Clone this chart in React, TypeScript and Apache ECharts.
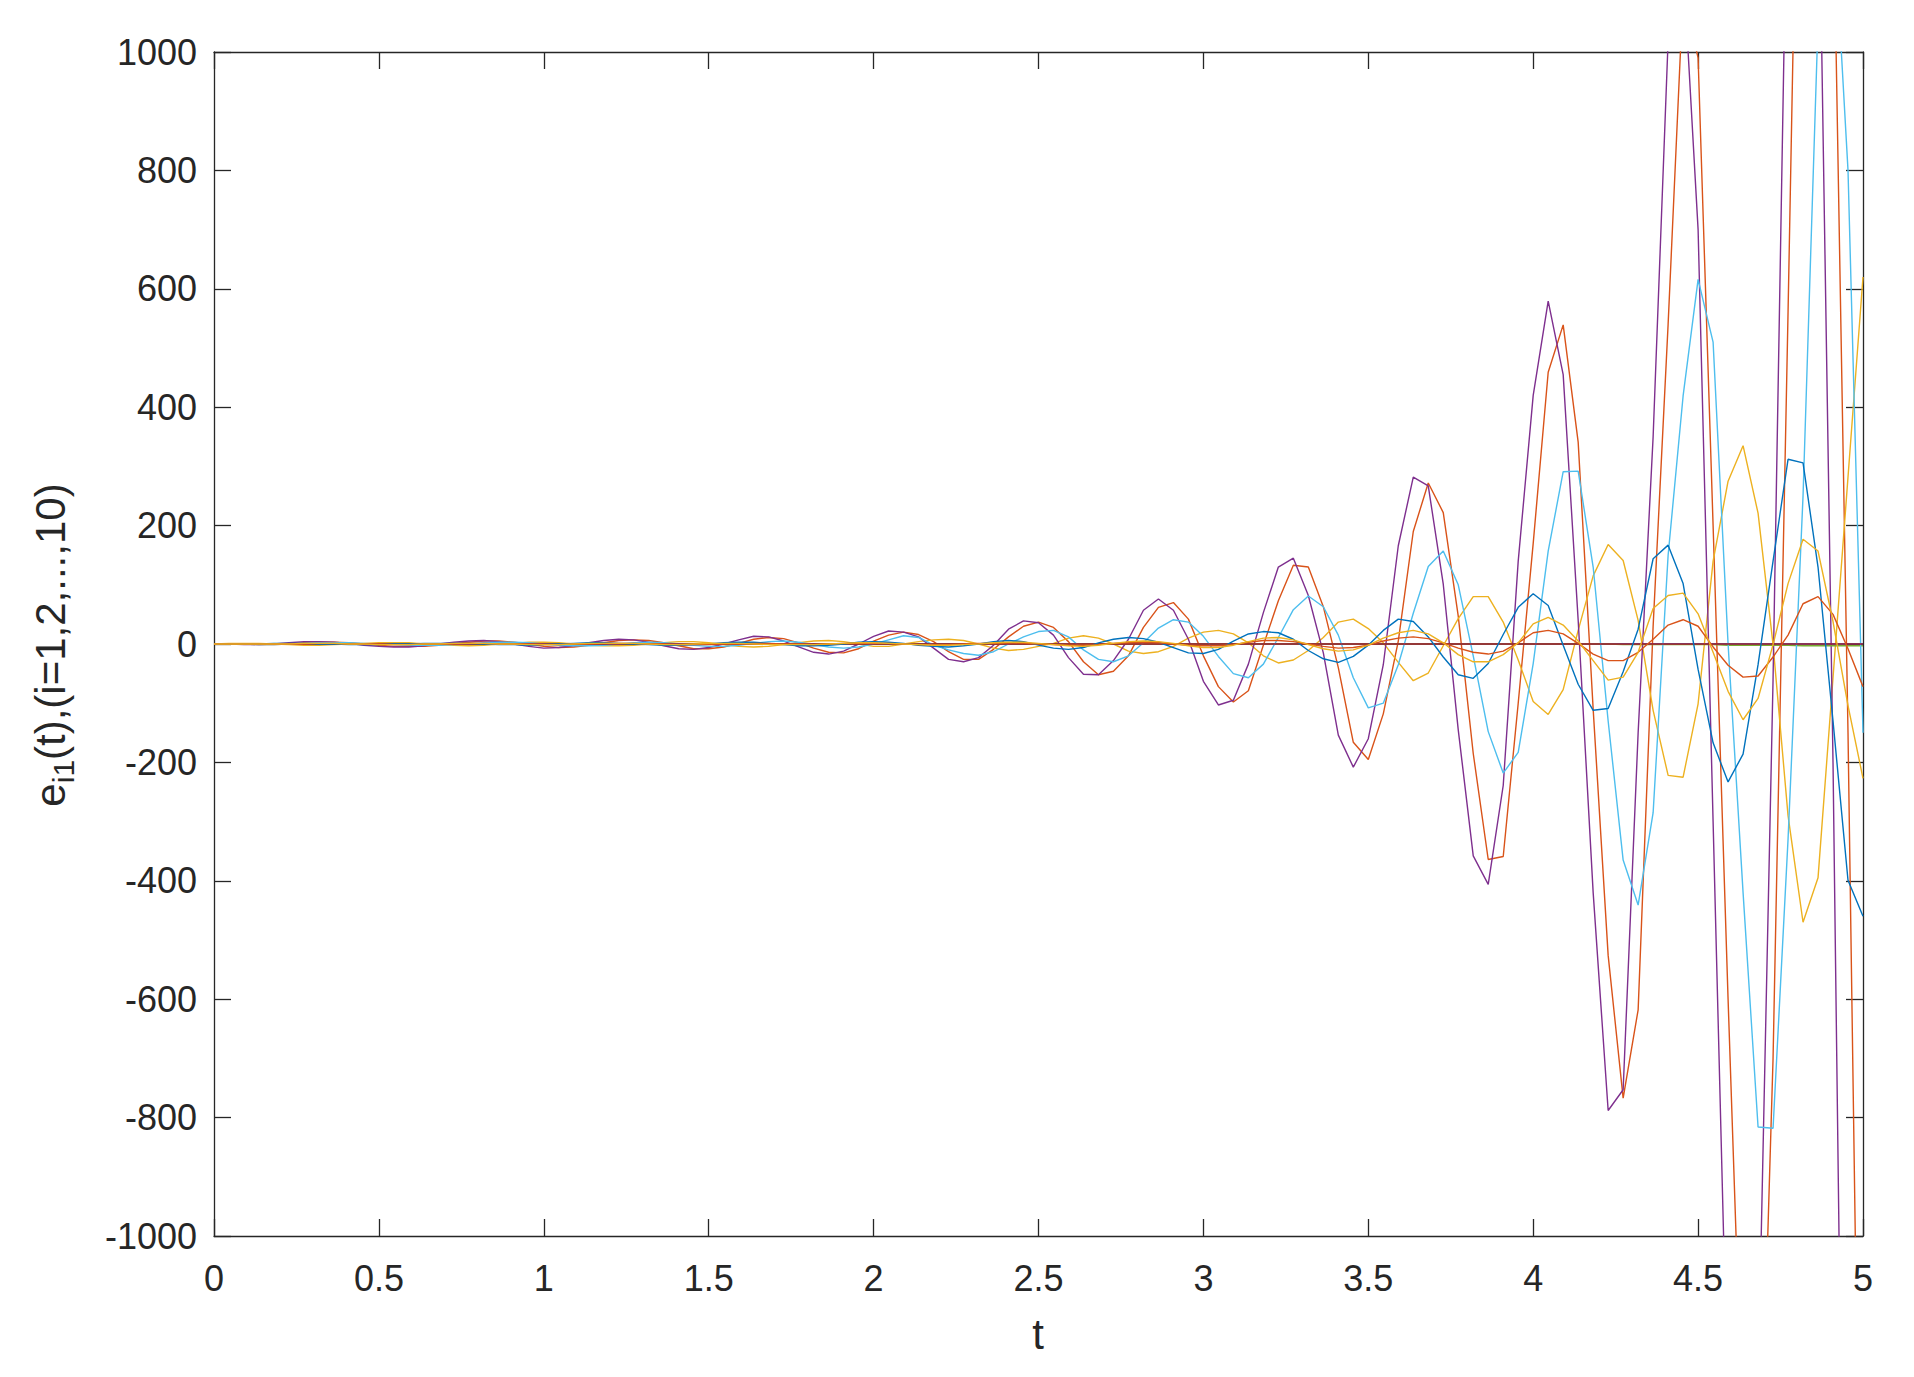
import { useEffect, useRef } from 'react';
import * as echarts from 'echarts';

// sample grid: t from 0 to 5 in 110 equal steps
const T_MAX = 5;
const N_STEPS = 110;

const X_TICK_INTERVAL = 0.5;
const Y_MIN = -1000;
const Y_MAX = 1000;
const Y_TICK_INTERVAL = 200;

const SERIES_NAMES = ['e11', 'e21', 'e31', 'e41', 'e51', 'e61', 'e71', 'e81', 'e91', 'e101'];
const COLORS = ['#0072BD', '#D95319', '#EDB120', '#7E2F8E', '#77AC30', '#4DBEEE', '#A2142F', '#0072BD', '#D95319', '#EDB120'];

const e1 = [
  0, 0, 0, 0, 0, 0, 0, 0, 0, 0,
  0, 0, 0, 0, 0, 0, 0, 0, 0, 0,
  0, 0, 0, 0, 0, 0, 0, 0, 0, 0,
  0, 0, 0, 0, 0, 0, 0, 0, 0, 0,
  0, 0, 0, 0, 0, 0, 0, 0, 0, 0,
  0, 0, 0, 0, 0, 0, 0, 0, 0, 0,
  0, 0, 0, 0, 0, 0, 0, 0, 0, 0,
  0, 0, 0, 0, 0, 0, 0, 0, 0, 0,
  0, 0, 0, 0, 0, 0, 0, 0, 0, 0,
  0, 0, 0, 0, 0, 0, 0, 0, 0, 0,
  0, 0, 0, 0, 0, 0, 0, 0, 0, 0,
  0,
];

const e2 = [
  0, 0, 0, -1, -1, 0, 2, 3, 3, 2,
  0, -2, -4, -4, -4, -2, 1, 3, 5, 5,
  3, 0, -4, -6, -5, -2, 2, 6, 7, 6,
  2, -3, -8, -8, -5, 1, 8, 11, 9, 2,
  -7, -14, -15, -8, 5, 15, 20, 16, 4, -13,
  -26, -26, -9, 12, 30, 37, 28, 4, -30, -52,
  -46, -20, 28, 62, 70, 42, -20, -72, -98, -79,
  -2, 73, 133, 130, 63, -40, -166, -195, -118, 5,
  190, 272, 222, 47, -185, -364, -359, -100, 170, 459,
  539, 341, -110, -526, -767, -618, 30, 540, 1100, 990,
  200, -600, -1350, -1550, -700, 560, 1900, 2300, 1300, -150,
  -1900,
];

const e3 = [
  0, 1, 1, 1, 0, -1, -2, -2, -1, 0,
  1, 2, 2, 2, 0, -1, -2, -3, -2, 0,
  1, 3, 3, 2, 0, -2, -3, -3, -2, 0,
  2, 4, 4, 2, -1, -4, -5, -4, -1, 2,
  5, 6, 4, 0, -4, -4, 0, 4, 7, 8,
  6, 0, -7, -11, -9, -4, 1, 10, 14, 10,
  0, -12, -16, -13, -4, 10, 20, 23, 17, 2,
  -20, -32, -27, -11, 11, 37, 42, 26, 2, -31,
  -62, -49, -3, 43, 80, 80, 37, -27, -97, -119,
  -77, 23, 115, 168, 141, 40, -112, -222, -225, -101,
  140, 275, 335, 221, -1, -290, -470, -395, -57, 282,
  620,
];

const e4 = [
  0, 0, -1, -1, 0, 2, 4, 4, 3, 1,
  -2, -4, -5, -5, -3, 0, 3, 5, 6, 4,
  0, -4, -7, -6, -3, 2, 6, 8, 7, 3,
  -3, -8, -9, -6, 0, 7, 13, 12, 5, -5,
  -14, -17, -12, 0, 13, 22, 20, 12, -7, -26,
  -30, -23, -2, 25, 39, 36, 15, -23, -51, -52,
  -28, 8, 57, 76, 57, 8, -63, -103, -95, -34,
  53, 130, 145, 82, -15, -154, -208, -160, -35, 166,
  282, 267, 101, -145, -358, -406, -239, 140, 420, 579,
  455, 40, -420, -788, -753, -150, 350, 1020, 1150, 700,
  -300, -1300, -1600, -1250, -60, 1400, 2300, 1400, -200, -2200,
  -3000,
];

const e5 = [
  0, 0, 0, 0, 0, 0, 0, 0, 0, 0,
  0, 0, 0, 0, 0, 0, 0, 0, 0, 0,
  0, 0, 0, 0, 0, 0, 0, 0, 0, 0,
  0, 0, 0, 0, 0, 0, 0, 0, 0, 0,
  0, 0, 0, 0, 0, 0, 0, 0, 0, 0,
  0, 0, 0, 0, 0, 0, 0, 0, 0, 0,
  0, 0, 0, 0, 0, 0, 0, 0, 0, 0,
  0, 0, 0, 0, 0, 0, 0, 0, 0, 0,
  0, 0, 0, 0, 0, 0, 0, 0, 0, 0,
  0, 0, 0, 0, -1, -1, -1, -1, -1, -1,
  -1, -2, -2, -2, -2, -2, -3, -3, -3, -3,
  -3,
];

const e6 = [
  0, 0, 0, -1, -1, 0, 1, 2, 2, 2,
  1, 0, -1, -2, -2, -2, -1, 0, 2, 3,
  3, 2, 0, -2, -3, -3, -2, 0, 2, 3,
  2, 0, -2, -4, -4, -2, 1, 4, 5, 3,
  -1, -5, -7, -5, 0, 7, 14, 11, -2, -10,
  -16, -19, -13, 0, 12, 21, 23, 12, -10, -26,
  -30, -20, 2, 27, 41, 37, 13, -21, -50, -57,
  -34, 11, 58, 81, 63, 15, -57, -108, -100, -35,
  52, 131, 157, 100, -20, -148, -218, -183, -33, 157,
  291, 292, 130, -130, -365, -441, -285, 150, 419, 616,
  510, 0, -420, -816, -818, -330, 250, 1050, 1250, 800,
  -150,
];

const e7 = [
  0, 0, 0, 0, 0, 0, 0, 0, 0, 0,
  0, 0, 0, 0, 0, 0, 0, 0, 0, 0,
  0, 0, 0, 0, 0, 0, 0, 0, 0, 0,
  0, 0, 0, 0, 0, 0, 0, 0, 0, 0,
  0, 0, 0, 0, 0, 0, 0, 0, 0, 0,
  0, 0, 0, 0, 0, 0, 0, 0, 0, 0,
  0, 0, 0, 0, 0, 0, 0, 0, 0, 0,
  0, 0, 0, 0, 0, 0, 0, 0, 0, 0,
  0, 0, 0, 0, 0, 0, 0, 0, 0, 0,
  0, 0, 0, 0, 0, 0, 0, 0, 0, 0,
  0, 0, 0, 0, 0, 0, 0, 0, 0, 0,
  0,
];

const e8 = [
  0, 0, 0, 0, 1, 1, 1, 0, 0, -1,
  -1, -1, 0, 0, 1, 1, 1, 1, 0, -1,
  -1, -2, -1, 0, 1, 2, 2, 1, 0, -1,
  -2, -2, -1, 0, 2, 3, 3, 1, -1, -3,
  -3, -2, 0, 3, 4, 3, 1, -2, -4, -5,
  -3, 0, 4, 6, 4, -2, -7, -9, -6, 2,
  8, 11, 9, 3, -6, -15, -16, -9, 5, 17,
  21, 19, 8, -11, -25, -31, -21, -2, 23, 42,
  38, 12, -22, -52, -58, -33, 16, 62, 85, 65,
  -2, -68, -112, -109, -47, 25, 144, 167, 102, -43,
  -167, -233, -186, -35, 140, 312, 306, 130, -130, -399,
  -460,
];

const e9 = [
  0, 0, 0, 0, 0, 0, 0, 1, 1, 0,
  0, 0, -1, -1, 0, 0, 0, 1, 1, 0,
  0, 0, -1, -1, 0, 0, 1, 1, 1, 0,
  0, -1, -1, -1, 0, 0, 1, 1, 0, 0,
  -1, 0, 1, 1, 1, 1, 0, -1, -1, -1,
  0, 1, 1, 2, 1, 0, -1, -2, -2, -1,
  1, 2, 3, 2, 0, -2, -3, -3, -1, 3,
  6, 6, 4, 0, -4, -7, -6, -2, 5, 10,
  12, 9, 2, -7, -14, -17, -12, 2, 19, 23,
  17, 1, -17, -28, -28, -14, 8, 32, 41, 30,
  -5, -36, -56, -54, -22, 15, 68, 80, 50, -8,
  -72,
];

const e10 = [
  0, 0, 0, 0, 0, 0, 1, 1, 1, 0,
  0, -1, -1, -1, 0, 0, 1, 1, 1, 0,
  0, -1, -1, -1, 0, 1, 1, 1, 1, 0,
  -1, -1, 0, 1, 1, 1, 0, -1, -1, -1,
  -1, 0, 1, 2, 2, 1, 0, -1, -2, -2,
  -1, 0, 2, 3, 3, 1, -1, -3, -4, -2,
  1, 4, 5, 4, 1, -3, -6, -6, -2, 4,
  10, 11, 7, -1, -8, -12, -10, -2, 10, 19,
  23, 17, 2, -18, -30, -30, -18, 2, 34, 45,
  32, 5, -28, -61, -56, -14, 60, 82, 86, 51,
  -14, -80, -128, -92, -1, 102, 177, 157, 38, -104,
  -227,
];

const SERIES_VALUES = [e1, e2, e3, e4, e5, e6, e7, e8, e9, e10];

const Y_TITLE_MAIN = 'e';
const Y_TITLE_SUB = 'i1';
const Y_TITLE_REST = '(t),(i=1,2,...,10)';
const X_TITLE = 't';

const AXIS_COLOR = '#262626';
const FONT_NAME = '"Liberation Sans"';
const FONT = `${FONT_NAME}, Arial, Helvetica, sans-serif`;

const TITLE_PX = 42;
const SUB_PX = 30;
const SUB_SHIFT = 13;

function measure(text: string, px: number): number {
  const ctx = document.createElement('canvas').getContext('2d');
  if (!ctx) return text.length * px * 0.55;
  ctx.font = `${px}px ${FONT}`;
  return ctx.measureText(text).width;
}

export default function App() {
  const ref = useRef<HTMLDivElement>(null);

  useEffect(() => {
    if (!ref.current) return;
    const chart = echarts.init(ref.current, null, { renderer: 'svg' });

    const toPairs = (vals: number[]) => vals.map((v, k) => [(k * T_MAX) / N_STEPS, v]);

    const axisLineStyle = { color: AXIS_COLOR, width: 1.3 };
    const tickCommon = { show: true, inside: true, length: 17, lineStyle: axisLineStyle };

    const xBase = {
      type: 'value' as const,
      min: 0,
      max: T_MAX,
      interval: X_TICK_INTERVAL,
      splitLine: { show: false },
      axisLine: { show: true, onZero: false, lineStyle: axisLineStyle },
      axisTick: tickCommon,
    };
    const yBase = {
      type: 'value' as const,
      min: Y_MIN,
      max: Y_MAX,
      interval: Y_TICK_INTERVAL,
      splitLine: { show: false },
      axisLine: { show: true, onZero: false, lineStyle: axisLineStyle },
      axisTick: tickCommon,
    };

    const w1 = measure(Y_TITLE_MAIN, TITLE_PX);
    const w2 = measure(Y_TITLE_SUB, SUB_PX);
    const w3 = measure(Y_TITLE_REST, TITLE_PX);
    const x0 = -(w1 + w2 + w3) / 2;

    const textStyle = (text: string, px: number) => ({
      text,
      fill: AXIS_COLOR,
      font: `${px}px ${FONT}`,
      align: 'left',
      verticalAlign: 'middle',
      textAlign: 'left',
      textVerticalAlign: 'middle',
    });

    chart.setOption({
      animation: false,
      backgroundColor: '#ffffff',
      grid: { left: 214, top: 52, right: 51, bottom: 141, containLabel: false },
      xAxis: [
        {
          ...xBase,
          position: 'bottom',
          axisLabel: {
            show: true,
            margin: 24,
            fontSize: 36,
            color: AXIS_COLOR,
            fontFamily: FONT,
            formatter: (v: number) => String(v),
          },
        },
        {
          ...xBase,
          position: 'top',
          axisLabel: { show: false },
        },
      ],
      yAxis: [
        {
          ...yBase,
          position: 'left',
          axisLabel: {
            show: true,
            margin: 17,
            fontSize: 36,
            color: AXIS_COLOR,
            fontFamily: FONT,
            formatter: (v: number) => String(v),
          },
        },
        {
          ...yBase,
          position: 'right',
          axisLabel: { show: false },
        },
      ],
      series: SERIES_VALUES.map((vals, i) => ({
        name: SERIES_NAMES[i],
        type: 'line',
        xAxisIndex: 0,
        yAxisIndex: 0,
        data: toPairs(vals),
        showSymbol: false,
        symbol: 'none',
        clip: true,
        lineStyle: { color: COLORS[i], width: 1.4 },
        itemStyle: { color: COLORS[i] },
        emphasis: { disabled: true },
      })),
      graphic: [
        {
          type: 'text',
          x: 1038,
          y: 1334,
          silent: true,
          style: {
            text: X_TITLE,
            fill: AXIS_COLOR,
            font: `${TITLE_PX}px ${FONT}`,
            align: 'center',
            verticalAlign: 'middle',
            textAlign: 'center',
            textVerticalAlign: 'middle',
          },
        },
        {
          type: 'group',
          x: 50,
          y: 645,
          rotation: Math.PI / 2,
          silent: true,
          children: [
            { type: 'text', x: x0, y: 0, silent: true, style: textStyle(Y_TITLE_MAIN, TITLE_PX) },
            { type: 'text', x: x0 + w1, y: SUB_SHIFT, silent: true, style: textStyle(Y_TITLE_SUB, SUB_PX) },
            { type: 'text', x: x0 + w1 + w2, y: 0, silent: true, style: textStyle(Y_TITLE_REST, TITLE_PX) },
          ],
        },
      ],
    });

    return () => chart.dispose();
  }, []);

  return (
    <div
      ref={ref}
      style={{ position: 'fixed', left: 0, top: 0, width: '1914px', height: '1377px', background: '#ffffff' }}
    />
  );
}
